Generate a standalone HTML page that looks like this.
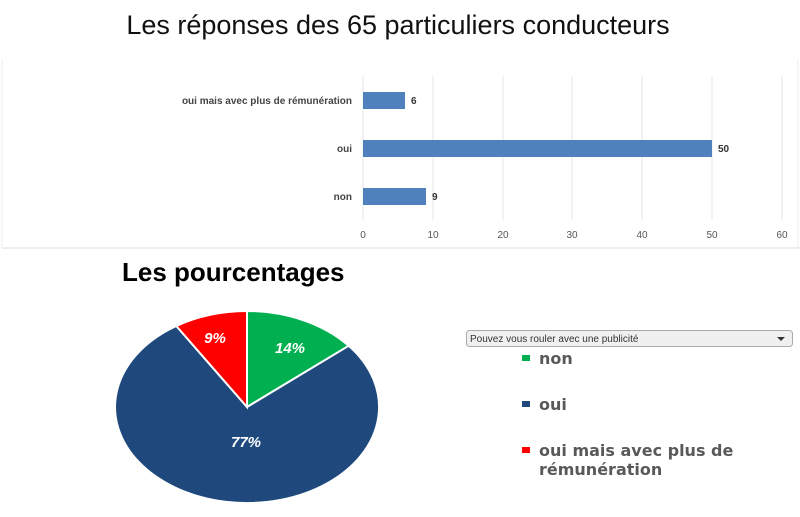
<!DOCTYPE html>
<html><head><meta charset="utf-8"><style>
body{margin:0;width:800px;height:512px;background:#fff;overflow:hidden;font-family:"Liberation Sans",sans-serif}
</style></head><body>
<svg width="800" height="512" viewBox="0 0 800 512" xmlns="http://www.w3.org/2000/svg">
<text x="398" y="34" text-anchor="middle" font-size="27" fill="#111" font-family="Liberation Sans, sans-serif">Les réponses des 65 particuliers conducteurs</text>
<line x1="2" y1="248" x2="800" y2="248" stroke="#ddd"/>
<line x1="2" y1="60" x2="2" y2="248" stroke="#eee"/>
<line x1="798" y1="60" x2="798" y2="248" stroke="#eee"/>
<g stroke="#e4e4e4">
<line x1="363" y1="76" x2="363" y2="220"/><line x1="433" y1="76" x2="433" y2="220"/><line x1="503" y1="76" x2="503" y2="220"/><line x1="572" y1="76" x2="572" y2="220"/><line x1="642" y1="76" x2="642" y2="220"/><line x1="712" y1="76" x2="712" y2="220"/><line x1="782" y1="76" x2="782" y2="220"/>
</g>
<g fill="#4f81bd">
<rect x="363" y="92" width="42" height="17"/>
<rect x="363" y="140" width="349" height="17"/>
<rect x="363" y="188" width="63" height="17"/>
</g>
<g font-size="10" font-weight="bold" fill="#333">
<text x="411" y="104">6</text><text x="718" y="152">50</text><text x="432" y="200">9</text>
<text x="352" y="104" text-anchor="end" fill="#444">oui mais avec plus de rémunération</text>
<text x="352" y="152" text-anchor="end" fill="#444">oui</text>
<text x="352" y="200" text-anchor="end" fill="#444">non</text>
</g>
<g font-size="10" fill="#555" text-anchor="middle">
<text x="363" y="238">0</text><text x="433" y="238">10</text><text x="503" y="238">20</text><text x="572" y="238">30</text><text x="642" y="238">40</text><text x="712" y="238">50</text><text x="782" y="238">60</text>
</g>
<text x="122" y="281" font-size="26" font-weight="bold" fill="#000">Les pourcentages</text>
<g stroke="#fff" stroke-width="2">
<path d="M247,407 L247,311 A132,96 0 0 1 348.7,345.8 Z" fill="#00b050"/>
<path d="M247,407 L348.7,345.8 A132,96 0 1 1 176.3,326 Z" fill="#1f497d"/>
<path d="M247,407 L176.3,326 A132,96 0 0 1 247,311 Z" fill="#ff0000"/>
</g>
<g font-size="15" font-weight="bold" font-style="italic" fill="#fff" text-anchor="middle">
<text x="290" y="353">14%</text><text x="246" y="447">77%</text><text x="215" y="343">9%</text>
</g>
<rect x="466.5" y="330.5" width="326" height="16" rx="3" fill="#f0f0f0" stroke="#aaa"/>
<text x="470" y="342" font-size="10" fill="#333">Pouvez vous rouler avec une publicité</text>
<path d="M777,337 L785,337 L781,341 Z" fill="#333"/>
<rect x="522" y="355" width="8" height="6" fill="#00b050"/>
<rect x="522" y="401" width="8" height="6" fill="#1f497d"/>
<rect x="522" y="447" width="8" height="6" fill="#ff0000"/>
<g font-size="16" font-weight="bold" fill="#595959" font-family="DejaVu Sans, sans-serif">
<text x="539" y="364">non</text><text x="539" y="410">oui</text>
<text x="539" y="456">oui mais avec plus de</text><text x="539" y="475">rémunération</text>
</g>
</svg>
</body></html>
